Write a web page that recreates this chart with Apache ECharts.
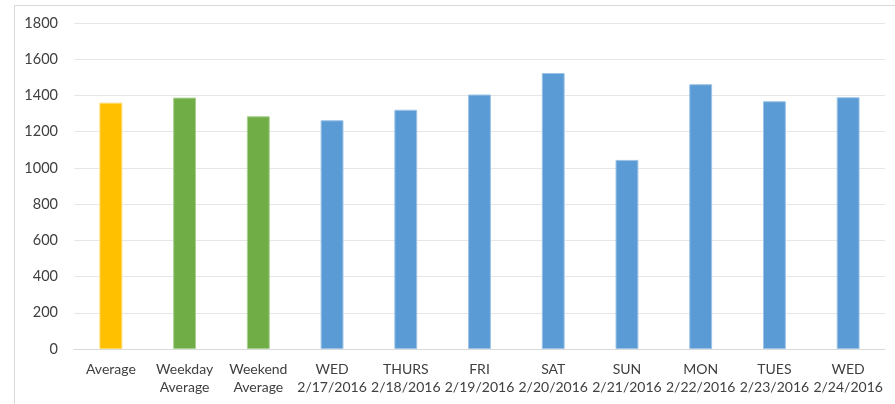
<!DOCTYPE html>
<html>
<head>
<meta charset="utf-8">
<style>
  html, body { margin: 0; padding: 0; background: #fff; }
  #frame { position: absolute; left: 14px; top: 5px; width: 890px; height: 410px; border: 1px solid #d9d9d9; box-sizing: border-box; }
  #chart { position: absolute; left: 0; top: 0; width: 895px; height: 404px; }
</style>
<script src="https://cdn.jsdelivr.net/npm/echarts@6/dist/echarts.min.js"></script>
</head>
<body>
<div id="frame"></div>
<div id="chart"></div>
<script>
// Daily counts with overall / weekday / weekend averages
const categories = [
  'Average', 'Weekday\nAverage', 'Weekend\nAverage',
  'WED\n2/17/2016', 'THURS\n2/18/2016', 'FRI\n2/19/2016', 'SAT\n2/20/2016',
  'SUN\n2/21/2016', 'MON\n2/22/2016', 'TUES\n2/23/2016', 'WED\n2/24/2016'
];
const values = [1360, 1388, 1285, 1263, 1321, 1405, 1524, 1044, 1462, 1368, 1390];
const groups = ['overall', 'split', 'split', 'day', 'day', 'day', 'day', 'day', 'day', 'day', 'day'];
const yTicks = [0, 200, 400, 600, 800, 1000, 1200, 1400, 1600, 1800];

const groupColors = { overall: '#FFC000', split: '#70AD47', day: '#5B9BD5' };
const groupBorders = { overall: '#FFD966', split: '#A9D08E', day: '#9DC3E6' };

const chart = echarts.init(document.getElementById('chart'), null, { renderer: 'canvas' });
chart.setOption({
  animation: false,
  backgroundColor: 'transparent',
  grid: { left: 74, right: 10, top: 23, bottom: 55, containLabel: false },
  xAxis: {
    type: 'category',
    data: categories,
    axisTick: { show: false },
    axisLine: { lineStyle: { color: '#d9d9d9', width: 1 } },
    axisLabel: {
      interval: 0,
      margin: 11,
      color: '#404040',
      fontFamily: 'Lato, "Open Sans", sans-serif',
      fontSize: 14,
      lineHeight: 18
    }
  },
  yAxis: {
    type: 'value',
    min: yTicks[0],
    max: yTicks[yTicks.length - 1],
    interval: 200,
    axisLine: { show: false },
    axisTick: { show: false },
    splitLine: { lineStyle: { color: '#e6e6e6', width: 1 } },
    axisLabel: {
      margin: 16,
      color: '#404040',
      fontFamily: 'Lato, "Open Sans", sans-serif',
      fontSize: 14.5,
      formatter: v => String(v)
    }
  },
  series: [{
    type: 'bar',
    barWidth: '31%',
    data: values.map((v, i) => ({
      value: v,
      itemStyle: {
        color: groupColors[groups[i]],
        borderColor: groupBorders[groups[i]],
        borderWidth: 1
      }
    }))
  }]
});
</script>
</body>
</html>
